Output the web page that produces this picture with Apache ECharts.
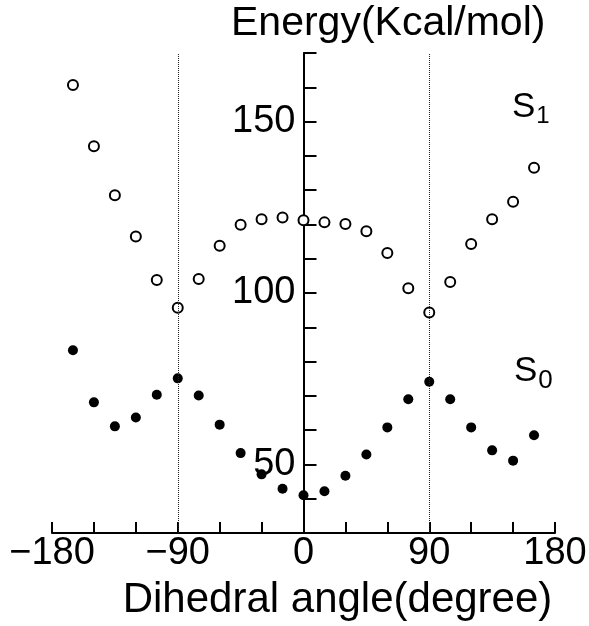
<!DOCTYPE html>
<html>
<head>
<meta charset="utf-8">
<script src="https://cdn.jsdelivr.net/npm/echarts@6/dist/echarts.min.js"></script>
<style>
  html, body { margin: 0; padding: 0; background: #fff; }
  #chart { width: 589px; height: 626px; }
</style>
</head>
<body>
<div id="chart"></div>
<script>
// dihedral angles, every 15 degrees
const angles = [-165, -150, -135, -120, -105, -90, -75, -60, -45, -30, -15, 0,
  15, 30, 45, 60, 75, 90, 105, 120, 135, 150, 165];

// excited state S1 (open circles)
const s1 = [160.7, 142.8, 128.5, 116.5, 103.8, 95.7, 104.1, 113.8, 119.9, 121.5, 122.0, 121.2,
  120.6, 120.1, 118.0, 111.7, 101.4, 94.3, 103.2, 114.3, 121.5, 126.6, 136.5];

// ground state S0 (filled dots)
const s0 = [83.3, 68.1, 61.1, 63.7, 70.3, 75.1, 70.1, 61.6, 53.3, 47.1, 42.9, 41.0,
  42.2, 46.7, 52.9, 60.8, 69.0, 74.1, 69.0, 60.8, 54.1, 51.1, 58.5];

const xLabels = [-180, -90, 0, 90, 180];
const yLabels = [50, 100, 150];
const guideLines = [-90, 90];

const font = 'Liberation Sans, Arial, Helvetica, sans-serif';

const gridLeft = 52;
const gridRight = 34;
const plotWidth = 589 - gridLeft - gridRight;

const chart = echarts.init(document.getElementById('chart'));

const pairs = (ys) => angles.map((a, i) => [a, ys[i]]);

chart.setOption({
  animation: false,
  backgroundColor: '#fff',
  title: {
    text: 'Energy(Kcal/mol)',
    left: 231,
    top: 3,
    padding: 0,
    textStyle: { fontFamily: font, fontSize: 41, fontWeight: 'normal', color: '#000' }
  },
  grid: {
    left: gridLeft, right: gridRight, top: 53, bottom: 93,
    containLabel: false, outerBoundsMode: 'none'
  },
  xAxis: {
    type: 'value',
    min: -180,
    max: 180,
    interval: 30,
    name: 'Dihedral angle(degree)',
    nameLocation: 'middle',
    nameGap: 46,
    nameTextStyle: { fontFamily: font, fontSize: 42, color: '#000', padding: [0, 0, 0, 68] },
    splitLine: { show: false },
    axisLine: { lineStyle: { color: '#000', width: 2 } },
    axisTick: { inside: true, length: 11, lineStyle: { color: '#000', width: 2 } },
    axisLabel: {
      fontFamily: font,
      fontSize: 38,
      color: '#000',
      margin: 2,
      formatter: (v) => xLabels.includes(v) ? String(v).replace('-', '\u2212') : ''
    }
  },
  yAxis: {
    type: 'value',
    position: 'left',
    // move the axis from the grid edge to x = 0
    offset: -plotWidth / 2,
    min: 30,
    max: 170,
    interval: 10,
    splitLine: { show: false },
    axisLine: { onZero: false, lineStyle: { color: '#000', width: 2 } },
    axisTick: { inside: true, length: 13, lineStyle: { color: '#000', width: 2 } },
    axisLabel: {
      fontFamily: font,
      fontSize: 38,
      color: '#000',
      margin: 8,
      formatter: (v) => yLabels.includes(v) ? String(v) : ''
    }
  },
  graphic: [
    {
      type: 'text',
      left: 512,
      top: 90,
      style: {
        text: '{s|S}{sub|1}',
        rich: {
          s: { fontFamily: font, fontSize: 35, fill: '#000' },
          sub: { fontFamily: font, fontSize: 24, fill: '#000', padding: [18, 0, 0, 1] }
        }
      }
    },
    {
      type: 'text',
      left: 514,
      top: 354,
      style: {
        text: '{s|S}{sub|0}',
        rich: {
          s: { fontFamily: font, fontSize: 35, fill: '#000' },
          sub: { fontFamily: font, fontSize: 26, fill: '#000', padding: [18, 0, 0, 1] }
        }
      }
    }
  ],
  series: [
    {
      name: 'S1',
      type: 'scatter',
      data: pairs(s1),
      symbol: 'circle',
      symbolSize: 10,
      itemStyle: { color: '#fff', borderColor: '#000', borderWidth: 2, opacity: 1 },
      z: 3,
      markLine: {
        silent: true,
        symbol: 'none',
        label: { show: false },
        lineStyle: { color: '#222', width: 1, type: 'dotted' },
        data: guideLines.map((x) => ({ xAxis: x }))
      }
    },
    {
      name: 'S0',
      type: 'scatter',
      data: pairs(s0),
      symbol: 'circle',
      symbolSize: 10,
      itemStyle: { color: '#000', opacity: 1 },
      z: 3
    }
  ]
});
</script>
</body>
</html>
